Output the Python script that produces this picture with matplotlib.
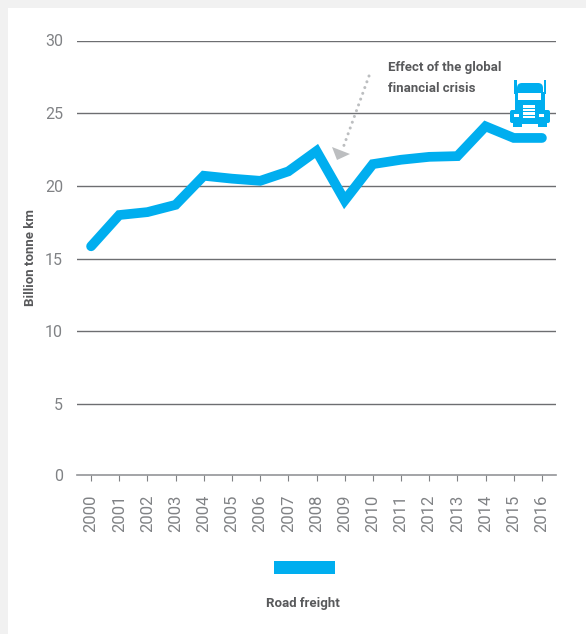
import matplotlib
matplotlib.use("Agg")
import matplotlib.pyplot as plt
from matplotlib.patches import FancyBboxPatch, Polygon, Rectangle
from matplotlib.transforms import ScaledTranslation

years = list(range(2000, 2017))
road_freight = [15.85, 18.0, 18.2, 18.7, 20.7, 20.5, 20.35, 21.0, 22.4, 19.0,
                21.5, 21.8, 22.0, 22.05, 24.1, 23.3, 23.3]
y_ticks = [0, 5, 10, 15, 20, 25, 30]

W, H = 586, 634
BLUE = "#00aeef"
TEXT = "#58595b"
NUM = "#808285"
LABEL_FONT = ["Roboto", "DejaVu Sans"]

fig = plt.figure(figsize=(W / 100, H / 100), dpi=100, facecolor="#f1f1f1")

# white page, leaves the grey strip on the top and left
fig.patches.append(Rectangle((8 / W, 0), 1, 1 - 8 / H, transform=fig.transFigure,
                             facecolor="white", edgecolor="none", zorder=-5))

ax = fig.add_axes([77 / W, 1 - 476.8 / H, 479 / W, (476.8 - 40.5) / H])
ax.patch.set_alpha(0)

# the baseline sits a little above the regular grid step in the original
# (set_position resets the ticks, so it has to come first)
ax.spines["bottom"].set_position(("outward", -1.3))

ax.plot(years, road_freight, color=BLUE, lw=7.0, solid_capstyle="round",
        solid_joinstyle="miter", zorder=3)
ax.set_xlim(1999.5, 2016.5)
ax.set_ylim(0, 30)

ax.set_yticks(y_ticks)
ax.set_xticks(years)
ax.set_xticklabels(years, rotation=90)
ax.tick_params(axis="y", length=0, pad=10, labelsize=11.5, labelcolor=NUM)
ax.tick_params(axis="x", length=4.3, width=0.8, color="#808285", pad=10,
               labelsize=12, labelcolor=NUM)
for lab in ax.get_xticklabels() + ax.get_yticklabels():
    lab.set_fontfamily(["Roboto", "DejaVu Sans"])
ax.grid(axis="y", color="#6d6e71", lw=1.0, zorder=1)
for name, spine in ax.spines.items():
    spine.set_visible(name == "bottom")
ax.spines["bottom"].set_color("#939598")
ax.spines["bottom"].set_linewidth(1.2)

ax.get_ygridlines()[0].set_visible(False)
zero = ax.get_yticklabels()[0]
zero.set_transform(zero.get_transform() + ScaledTranslation(0, 1.3 / 72, fig.dpi_scale_trans))

# overlay in pixel coordinates for the annotation, legend and truck
ov = fig.add_axes([0, 0, 1, 1])
ov.set_xlim(0, W)
ov.set_ylim(H, 0)
ov.axis("off")
ov.patch.set_alpha(0)

ov.text(30, 257, "Billion tonne km", rotation=90, ha="center", va="center",
        fontsize=9.5, fontweight="bold", color=TEXT, family=LABEL_FONT)
ov.text(388, 67, "Effect of the global", ha="left", va="center",
        fontsize=9.5, fontweight="bold", color=TEXT, family=LABEL_FONT)
ov.text(388, 88, "financial crisis", ha="left", va="center",
        fontsize=9.5, fontweight="bold", color=TEXT, family=LABEL_FONT)
ov.text(303, 604, "Road freight", ha="center", va="center",
        fontsize=9.5, fontweight="bold", color=TEXT, family=LABEL_FONT)

# legend swatch
ov.add_patch(Rectangle((274, 561), 61, 13, facecolor=BLUE, edgecolor="none"))

# dotted arrow
ov.plot([369, 343], [76, 148], color="#bcbec0", lw=2.2, ls=(0, (0.01, 2.0)),
        dash_capstyle="round")
ov.add_patch(Polygon([[332, 147], [350, 154], [337, 160]], closed=True,
                     facecolor="#bcbec0", edgecolor="none"))

# truck icon
ov.add_patch(FancyBboxPatch((517, 83), 26, 41, boxstyle="round,pad=0,rounding_size=5",
                            facecolor=BLUE, edgecolor="none", zorder=4))
ov.add_patch(Rectangle((515, 92), 30, 30, facecolor=BLUE, edgecolor="none", zorder=4))
ov.add_patch(FancyBboxPatch((510, 110), 40, 13, boxstyle="round,pad=0,rounding_size=2",
                            facecolor=BLUE, edgecolor="none", zorder=4))
ov.add_patch(Rectangle((514, 80), 2.5, 14, facecolor=BLUE, edgecolor="none", zorder=4))
ov.add_patch(Rectangle((543.5, 80), 2.5, 14, facecolor=BLUE, edgecolor="none", zorder=4))
ov.add_patch(Rectangle((513, 122), 9, 5, facecolor=BLUE, edgecolor="none", zorder=4))
ov.add_patch(Rectangle((538, 122), 9, 5, facecolor=BLUE, edgecolor="none", zorder=4))
ov.add_patch(Rectangle((518, 93), 23, 7, facecolor="white", edgecolor="none", zorder=5))
ov.add_patch(Rectangle((523, 105), 12, 13, facecolor="white", edgecolor="none", zorder=5))
for yy in (108, 111.5, 115):
    ov.add_patch(Rectangle((523, yy - 0.5), 12, 1, facecolor=BLUE, edgecolor="none", zorder=6))
ov.add_patch(Rectangle((514, 114), 5, 3, facecolor="white", edgecolor="none", zorder=5))
ov.add_patch(Rectangle((539, 114), 5, 3, facecolor="white", edgecolor="none", zorder=5))

fig.savefig("out.png", dpi=100, facecolor=fig.get_facecolor())
